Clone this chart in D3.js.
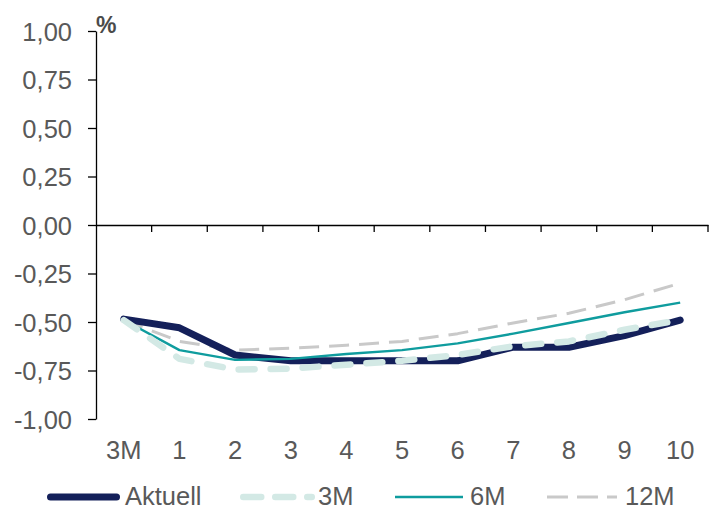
<!DOCTYPE html>
<html><head><meta charset="utf-8">
<script src="https://cdn.jsdelivr.net/npm/d3@7"></script>
<style>body{margin:0;background:#fff;} text{font-family:"Liberation Sans",Arial,sans-serif;}</style>
</head><body><svg id="c" width="713" height="509"></svg>
<script>
const categories = ["3M","1","2","3","4","5","6","7","8","9","10"];
const aktuell = [-0.485,-0.53,-0.67,-0.70,-0.70,-0.70,-0.70,-0.63,-0.63,-0.57,-0.49];
const m3 = [-0.49,-0.69,-0.745,-0.74,-0.72,-0.70,-0.67,-0.625,-0.60,-0.54,-0.49];
const m6 = [-0.49,-0.645,-0.695,-0.69,-0.665,-0.645,-0.61,-0.56,-0.505,-0.45,-0.40];
const m12 = [-0.49,-0.60,-0.645,-0.635,-0.62,-0.60,-0.56,-0.505,-0.455,-0.385,-0.30];
const yTicks = [1,0.75,0.5,0.25,0,-0.25,-0.5,-0.75,-1];
const seriesNames = ["Aktuell","3M","6M","12M"];

(function(){
const svg = d3.select("#c");
const L = 96, R = 708, T = 31, B = 419;
const FS = 25.5;
const x = d3.scaleBand().domain(categories).range([L, R]);
const y = d3.scaleLinear().domain([-1, 1]).range([B, T]);
const fmt = v => d3.format(".2f")(v).replace("−", "-").replace(".", ",");

// y axis
const ya = svg.append("g").attr("transform", `translate(${L},0)`)
  .call(d3.axisLeft(y).tickValues(yTicks).tickSize(8).tickSizeOuter(0).tickFormat(fmt));
ya.attr("font-size", null).attr("font-family", null);
ya.select(".domain").attr("stroke", "#000").attr("stroke-width", 1.3);
ya.selectAll(".tick line").attr("stroke", "#000").attr("stroke-width", 1.3);
ya.selectAll(".tick text").attr("font-size", FS).attr("fill", "#595959").attr("x", -24).attr("dy", "0.36em");

// x axis at zero
const xa = svg.append("g").attr("transform", `translate(0,${y(0)})`)
  .call(d3.axisBottom(x).tickSize(0).tickSizeOuter(0));
xa.select(".domain").attr("stroke", "#000").attr("stroke-width", 1.3);
xa.selectAll(".tick text").remove();
const bounds = categories.map(c => x(c) + x.bandwidth());
xa.selectAll("line.b").data(bounds).join("line").attr("class","b")
  .attr("x1", d => d).attr("x2", d => d).attr("y1", 0).attr("y2", 7)
  .attr("stroke", "#000").attr("stroke-width", 1.3);

// category labels at bottom
svg.append("g").selectAll("text").data(categories).join("text")
  .attr("x", d => x(d) + x.bandwidth()/2).attr("y", 459)
  .attr("text-anchor", "middle").attr("font-size", FS).attr("fill", "#595959")
  .text(d => d);

svg.append("text").attr("x", 96).attr("y", 33).attr("font-size", 23)
  .attr("font-weight", "bold").attr("fill", "#4a4a4a").text("%");

const line = d3.line().x((d,i) => x(categories[i]) + x.bandwidth()/2).y(d => y(d));
const styles = [
  {data: aktuell, stroke: "#14205a", w: 7, dash: null, cap: "round"},
  {data: m3, stroke: "#d3e9e5", w: 6.5, dash: "16,16", cap: "round"},
  {data: m6, stroke: "#0f9c9e", w: 2.4, dash: null, cap: "butt"},
  {data: m12, stroke: "#c9c9c9", w: 3, dash: "20,10", cap: "butt"}
];
const order = [3, 0, 2, 1];
order.forEach(k => {
  const s = styles[k];
  svg.append("path").attr("d", line(s.data)).attr("fill", "none")
    .attr("stroke", s.stroke).attr("stroke-width", s.w)
    .attr("stroke-dasharray", s.dash).attr("stroke-linecap", s.cap)
    .attr("stroke-linejoin", "round");
});

// legend
const legX = [47, 240, 395, 547];
const legEnd = [120, 315, 463, 617];
const txtX = [125, 318, 470, 625];
const lg = svg.append("g");
seriesNames.forEach((n, i) => {
  const s = styles[i];
  const isRound = s.cap === "round";
  const pad = isRound ? s.w/2 : 0;
  lg.append("line").attr("x1", legX[i] + pad).attr("x2", legEnd[i] - pad)
    .attr("y1", 497).attr("y2", 497)
    .attr("stroke", s.stroke).attr("stroke-width", s.w)
    .attr("stroke-linecap", s.cap)
    .attr("stroke-dasharray", i === 1 ? "18,14" : (i === 3 ? "21,9" : null));
  lg.append("text").attr("x", txtX[i]).attr("y", 505)
    .attr("font-size", FS).attr("fill", "#595959").text(n);
});
})();
</script></body></html>
